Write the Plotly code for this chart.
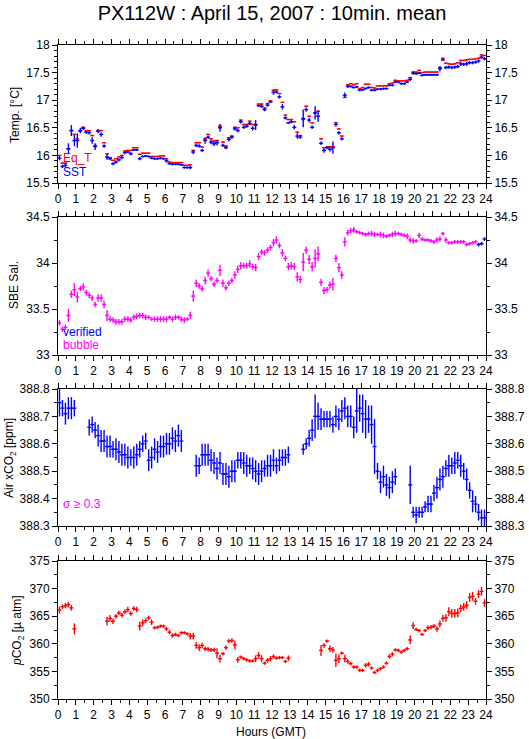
import plotly.graph_objects as go

# ---------------- data (10-minute means, index i -> hour (i+0.5)/6) ----------------
N = 144
hours = [(i + 0.5) / 6 for i in range(N)]

sst = [15.95,15.80,15.82,16.12,16.45,16.27,16.27,16.45,16.49,16.42,
       16.41,16.27,16.16,16.44,16.38,16.17,15.97,15.94,15.85,15.88,
       15.92,15.96,16.05,16.06,16.03,16.10,16.10,15.94,15.98,15.99,
       15.98,15.95,15.94,15.94,15.95,15.94,15.90,15.85,15.84,15.84,
       15.84,15.83,15.78,15.78,15.78,16.06,16.18,16.17,16.09,16.27,
       16.33,16.24,16.21,16.23,16.50,16.18,16.14,16.29,16.33,16.48,
       16.45,16.61,16.51,16.53,16.58,16.49,16.55,16.90,16.89,16.83,
       16.91,16.97,17.14,17.15,17.06,16.88,16.68,16.59,16.61,16.51,
       16.35,16.33,16.67,16.83,16.64,16.51,16.77,16.71,16.22,16.09,
       16.14,16.11,16.14,16.56,16.41,16.30,17.09,17.25,17.25,17.23,
       17.24,17.18,17.19,17.21,17.23,17.18,17.18,17.20,17.20,17.21,
       17.21,17.27,17.27,17.33,17.33,17.30,17.30,17.33,17.38,17.49,
       17.48,17.49,17.45,17.46,17.46,17.46,17.46,17.46,17.57,17.73,
       17.59,17.60,17.59,17.60,17.61,17.66,17.65,17.66,17.68,17.68,
       17.69,17.71,17.78,17.75]

sst_err = [0.04,0.03,0.04,0.10,0.10,0.10,0.13,0.05,0.03,0.03,
           0.03,0.06,0.06,0.04,0.04,0.03,0.05,0.03,0.03,0.03,
           0.03,0.03,0.03,0.02,0.03,0.02,0.02,0.03,0.02,0.02,
           0.02,0.02,0.02,0.02,0.02,0.02,0.03,0.02,0.02,0.02,
           0.02,0.02,0.02,0.02,0.03,0.04,0.03,0.03,0.03,0.06,
           0.03,0.04,0.04,0.05,0.07,0.03,0.03,0.04,0.03,0.03,
           0.03,0.03,0.03,0.03,0.03,0.04,0.09,0.02,0.03,0.03,
           0.03,0.02,0.04,0.03,0.03,0.05,0.03,0.02,0.03,0.04,
           0.05,0.03,0.16,0.04,0.04,0.03,0.12,0.10,0.03,0.04,
           0.03,0.04,0.11,0.04,0.03,0.03,0.05,0.03,0.02,0.02,
           0.02,0.02,0.02,0.02,0.02,0.02,0.02,0.02,0.02,0.02,
           0.02,0.02,0.02,0.02,0.02,0.02,0.02,0.02,0.03,0.03,
           0.02,0.02,0.02,0.02,0.02,0.02,0.02,0.02,0.05,0.02,
           0.03,0.03,0.03,0.03,0.03,0.04,0.03,0.04,0.03,0.03,
           0.03,0.03,0.03,0.03]

eq_t = [16.00,15.86,15.86,16.12,16.45,16.38,16.30,16.44,16.51,16.45,
        16.45,16.36,16.18,16.45,16.45,16.23,16.03,15.96,15.91,15.94,
        15.97,16.00,16.08,16.09,16.09,16.14,16.14,16.02,16.04,16.04,
        16.04,15.98,15.98,15.98,15.99,15.99,15.94,15.88,15.87,15.87,
        15.87,15.87,15.82,15.82,15.83,16.09,16.23,16.23,16.15,16.30,
        16.38,16.30,16.26,16.27,16.53,16.24,16.17,16.32,16.35,16.51,
        16.50,16.64,16.56,16.56,16.62,16.56,16.56,16.93,16.93,16.86,
        16.94,16.99,17.18,17.19,17.12,16.96,16.73,16.65,16.65,16.61,
        16.42,16.36,16.65,16.89,16.71,16.59,16.77,16.80,16.30,16.14,
        16.15,16.16,16.16,16.59,16.48,16.35,17.05,17.28,17.30,17.28,
        17.30,17.21,17.23,17.29,17.29,17.23,17.22,17.26,17.26,17.26,
        17.26,17.30,17.31,17.36,17.35,17.35,17.35,17.36,17.41,17.51,
        17.51,17.54,17.50,17.51,17.51,17.51,17.51,17.51,17.59,17.76,
        17.67,17.66,17.65,17.66,17.68,17.72,17.72,17.73,17.74,17.74,
        17.75,17.76,17.82,17.81]

sal = [33.35,33.28,33.30,33.43,33.66,33.71,33.63,33.72,33.74,33.68,
       33.65,33.62,33.55,33.62,33.62,33.55,33.43,33.39,33.38,33.36,
       33.36,33.36,33.39,33.39,33.38,33.41,33.42,33.43,33.43,33.41,
       33.41,33.39,33.39,33.39,33.39,33.39,33.39,33.41,33.39,33.41,
       33.41,33.39,33.38,33.39,33.43,33.64,33.78,33.75,33.72,33.81,
       33.89,33.83,33.77,33.81,33.92,33.78,33.73,33.78,33.81,33.87,
       33.93,33.97,33.97,33.97,33.99,33.96,33.95,34.07,34.12,34.11,
       34.14,34.17,34.22,34.25,34.19,34.11,34.05,33.96,33.97,33.96,
       33.85,33.82,34.01,34.14,34.04,33.96,34.05,34.10,33.79,33.70,
       33.71,33.76,33.77,34.05,33.95,33.87,34.23,34.33,34.35,34.36,
       34.34,34.33,34.32,34.31,34.32,34.32,34.31,34.31,34.31,34.30,
       34.29,34.30,34.31,34.32,34.32,34.31,34.30,34.29,34.25,34.24,
       34.24,34.30,34.26,34.25,34.25,34.24,34.23,34.25,34.26,34.32,
       34.25,34.22,34.22,34.23,34.23,34.23,34.23,34.20,34.21,34.22,
       34.23,34.20,34.21,34.26]

sal_err = [0.03,0.03,0.03,0.07,0.04,0.07,0.06,0.03,0.04,0.03,
           0.03,0.03,0.03,0.04,0.04,0.04,0.06,0.03,0.03,0.03,
           0.03,0.03,0.03,0.03,0.03,0.03,0.03,0.03,0.03,0.03,
           0.02,0.02,0.03,0.03,0.03,0.03,0.03,0.02,0.03,0.03,
           0.02,0.03,0.03,0.02,0.04,0.06,0.04,0.03,0.03,0.04,
           0.04,0.03,0.03,0.03,0.06,0.04,0.03,0.03,0.03,0.04,
           0.04,0.04,0.03,0.03,0.04,0.03,0.04,0.04,0.03,0.03,
           0.03,0.03,0.04,0.04,0.03,0.04,0.03,0.04,0.04,0.04,
           0.05,0.04,0.10,0.04,0.05,0.05,0.10,0.08,0.04,0.04,
           0.03,0.04,0.07,0.04,0.05,0.04,0.05,0.03,0.03,0.03,
           0.02,0.02,0.02,0.02,0.02,0.03,0.03,0.02,0.03,0.03,
           0.02,0.02,0.03,0.03,0.02,0.02,0.02,0.03,0.03,0.03,
           0.02,0.03,0.02,0.02,0.02,0.02,0.02,0.03,0.03,0.02,
           0.03,0.02,0.02,0.02,0.02,0.02,0.02,0.02,0.02,0.02,
           0.02,0.02,0.02,0.02]

# flag per salinity value: "b" = bubble, "v" = verified
sal_flag = ["b"] * 141 + ["v", "v", "v"]

_ = None
air = ([388.75,388.73,388.71,388.73,388.73,388.73] + [_]*4 +
       [388.66,388.67,388.65,388.63,388.61,388.61,388.59,388.59,388.58,388.58,
        388.57,388.56,388.56,388.55,388.55,388.55,388.56,388.58,388.60,388.61,
        388.54,388.55,388.58,388.57,388.59,388.59,388.60,388.60,388.62,388.61,
        388.63,388.61] + [_]*4 +
       [388.52,388.52,388.56,388.56,388.56,388.54,388.53,388.51,388.53,388.49,
        388.49,388.48,388.50,388.50,388.54,388.54,388.53,388.52,388.52,388.51,
        388.50,388.49] +
       [388.50,388.51,388.52,388.52,388.54,388.52,388.54,388.55,388.55,388.56] + [_]*4 +
       [388.58,388.60,388.62,388.65,388.70,388.70,388.69,388.69,388.69,388.69,
        388.67,388.70,388.69,388.72,388.73,388.70,388.70,388.66,388.72,388.73,
        388.71,388.69,388.69,388.67,388.59,388.50,388.46,388.48,388.45,388.44,
        388.46,388.48] + [_]*4 +
       [388.45] +
       [388.35,388.34,388.35,388.35,388.37,388.38,388.38,388.42,388.44,388.47,
        388.48,388.51,388.52,388.52,388.53,388.54,388.52,388.50,388.47,388.43,
        388.39,388.38,388.35,388.33,388.33])

air_err = ([0.05,0.03,0.04,0.04,0.04,0.03] + [0]*4 +
           [0.03,0.03,0.03,0.04,0.04,0.04,0.04,0.04,0.03,0.04,0.04,0.04,0.04,0.04,0.03,0.04,
            0.04,0.03,0.03,0.03,0.04,0.04,0.04,0.04,0.04,0.04,0.04,0.04,0.04,0.04,0.04,0.04] + [0]*4 +
           [0.04,0.03,0.04,0.04,0.04,0.04,0.04,0.04,0.04,0.04,0.04,0.04,0.04,0.04,0.03,0.03,
            0.04,0.04,0.03,0.04,0.04,0.04] +
           [0.04,0.03,0.04,0.04,0.04,0.03,0.04,0.03,0.03,0.03] + [0]*4 +
           [0.02,0.02,0.03,0.04,0.08,0.05,0.04,0.03,0.03,0.03,0.03,0.04,0.04,0.04,0.04,0.04,
            0.04,0.04,0.08,0.05,0.07,0.07,0.05,0.07,0.10,0.03,0.04,0.04,0.04,0.04,0.04,0.03] + [0]*4 +
           [0.07] +
           [0.02,0.03,0.02,0.02,0.02,0.03,0.03,0.03,0.04,0.04,0.04,0.03,0.04,0.03,0.04,0.03,
            0.04,0.03,0.04,0.03,0.04,0.03,0.03,0.03,0.03])

pco2 = ([366.1,366.7,366.9,367.1,366.5,362.7] + [_]*10 +
        [364.1,364.6,364.1,365.0,365.6,365.2,365.8,366.2,365.5,366.4,366.2] +
        [363.2,363.8,364.2,364.7,363.9,362.9,363.0,363.2,363.2,362.7,
         362.1,361.5,361.7,361.5,362.0,362.0,361.8,361.4,361.4,359.7,
         359.3,359.7,359.1,359.0,358.9,358.9,358.3,357.3,358.2,359.3,
         360.5,360.6,359.8,357.1,357.6,357.3,357.1,356.9,356.9,357.3,357.9] +
        [357.3,356.5,357.0,357.3,357.7,357.4,357.5,357.5,356.8,357.4] + [_]*10 +
        [358.8,359.7,360.5,359.1,358.9,357.0,357.3,358.3,357.3,356.8,
         356.4,355.8,355.8,355.2,355.2,356.1,356.3,355.6,354.8,355.2,
         355.5,355.8,356.5,357.7,358.1,358.9,358.8,358.5,358.8,359.1,
         360.7,363.3,362.6,362.4,361.7,362.4,362.9,363.0,363.2,362.7,
         363.6,364.6,364.7,365.8,365.5,365.5,365.6,366.4,366.7,367.0,
         368.4,368.6,367.7,369.0,369.5,367.4])

pco2_err = ([0.6,0.4,0.5,0.5,0.5,1.0] + [0]*10 +
            [0.8,0.6,0.5,0.4,0.4,0.4,0.4,0.5,0.4,0.4,0.5] +
            [0.8,0.6,0.4,0.4,0.5,0.3,0.3,0.3,0.3,0.4,0.4,0.4,0.3,0.3,0.3,0.3,0.3,0.6,0.6,0.6,
             0.6,0.5,0.4,0.4,0.4,0.4,0.9,0.7,0.3,0.4,0.4,0.4,0.8,0.5,0.3,0.3,0.3,0.3,0.3,0.6,0.6] +
            [0.6,0.3,0.4,0.5,0.4,0.3,0.3,0.3,0.3,0.5] + [0]*10 +
            [1.0,0.4,0.3,0.6,0.5,1.2,0.8,0.3,0.7,0.4,0.3,0.3,0.3,0.3,0.3,0.4,0.4,0.3,0.3,0.3,
             0.3,0.3,0.3,0.4,0.4,0.3,0.3,0.3,0.3,0.3,0.8,0.6,0.3,0.3,0.3,0.3,0.4,0.4,0.4,0.5,
             0.6,0.6,0.7,0.8,0.8,0.8,0.8,0.7,0.7,0.7,0.8,0.8,0.6,0.7,0.8,0.7])

for name, arr in [("sst", sst), ("sst_err", sst_err), ("eq_t", eq_t), ("sal", sal),
                  ("sal_err", sal_err), ("sal_flag", sal_flag), ("air", air),
                  ("air_err", air_err), ("pco2", pco2), ("pco2_err", pco2_err)]:
    assert len(arr) == N, (name, len(arr))

x_ticks = list(range(0, 25))

# ---------------- styling ----------------
BLUE = "#0000ff"
RED = "#ff0000"
MAG = "#ff00ff"
FONT = "Liberation Sans, Arial, Helvetica, sans-serif"
HALF = 0.11   # half-width of 10-min bar, hours
TH = 1.4

W, H = 529, 739
ML, MR, MT, MB = 58, 43, 45, 40
PW, PH = W - ML - MR, H - MT - MB

def py(px):  # pixel y -> paper y
    return 1 - (px - MT) / PH

def pxx(px):
    return (px - ML) / PW

panels = [  # top px, bottom px
    (45, 183), (217, 355), (389, 526), (561, 699)
]
domains = [[py(b), py(t)] for t, b in panels]

def cross(x, y, err, color, xa, ya, name):
    return go.Scatter(
        x=x, y=y, mode="markers", name=name, showlegend=False,
        xaxis=xa, yaxis=ya, marker=dict(size=1, color=color),
        error_x=dict(type="constant", value=HALF, color=color, thickness=TH, width=0),
        error_y=dict(type="data", array=err, color=color, thickness=TH, width=0),
        hoverinfo="x+y",
    )

fig = go.Figure()
fig.add_trace(go.Scatter(
    x=hours, y=eq_t, mode="markers", xaxis="x", yaxis="y", showlegend=False,
    marker=dict(size=1, color=RED),
    error_x=dict(type="constant", value=HALF, color=RED, thickness=TH, width=0),
    error_y=dict(type="constant", value=0.012, color=RED, thickness=TH, width=0)))
fig.add_trace(cross(hours, sst, sst_err, BLUE, "x", "y", "SST"))

sb_x = [h for h, f in zip(hours, sal_flag) if f == "b"]
sb_y = [v for v, f in zip(sal, sal_flag) if f == "b"]
sb_e = [v for v, f in zip(sal_err, sal_flag) if f == "b"]
sv_x = [h for h, f in zip(hours, sal_flag) if f == "v"]
sv_y = [v for v, f in zip(sal, sal_flag) if f == "v"]
sv_e = [v for v, f in zip(sal_err, sal_flag) if f == "v"]
fig.add_trace(cross(sb_x, sb_y, sb_e, MAG, "x2", "y2", "bubble"))
fig.add_trace(cross(sv_x, sv_y, sv_e, BLUE, "x2", "y2", "verified"))
fig.add_trace(cross(hours, air, air_err, BLUE, "x3", "y3", "Air xCO2"))
fig.add_trace(cross(hours, pco2, pco2_err, RED, "x4", "y4", "pCO2"))

ranges = [[15.5, 18], [33, 34.5], [388.3, 388.8], [350, 375]]
dticks = [0.5, 0.5, 0.1, 5]
minors = [0.1, 0.25, 0.05, 2.5]

# dummy traces so right-hand axes render
for k in range(4):
    fig.add_trace(go.Scatter(x=[None], y=[None], xaxis="x" if k == 0 else f"x{k+1}",
                             yaxis=f"y{k+5}", showlegend=False, hoverinfo="skip"))

tickfont = dict(family=FONT, size=12, color="black")
layout = dict(
    width=W, height=H, autosize=False, margin=dict(l=ML, r=MR, t=MT, b=MB, autoexpand=False),
    paper_bgcolor="white", plot_bgcolor="white", showlegend=False,
    font=dict(family=FONT, size=12, color="black"),
    title=dict(text="PX112W : April 15, 2007 : 10min. mean", x=272 / W, xanchor="center",
               xref="container", y=1 - 13 / H, yanchor="middle",
               font=dict(family=FONT, size=20, color="black")),
)
for k in range(4):
    xs = "" if k == 0 else str(k + 1)
    ys = "" if k == 0 else str(k + 1)
    layout[f"xaxis{xs}"] = dict(
        domain=[0, 1], anchor=f"y{ys}", range=[0, 24], tickmode="array",
        tickvals=x_ticks, ticktext=[str(v) for v in x_ticks],
        ticks="outside", ticklen=5, tickwidth=1, tickcolor="black",
        showline=True, linecolor="black", linewidth=1, mirror="ticks",
        showgrid=False, zeroline=False, tickfont=tickfont, automargin=False,
        minor=dict(dtick=0.5, tick0=0, ticks="outside", ticklen=3, tickwidth=1,
                   tickcolor="black", showgrid=False),
    )
    common_y = dict(
        range=ranges[k], dtick=dticks[k], tick0=ranges[k][0], ticks="outside",
        ticklen=5, tickwidth=1, tickcolor="black", showline=True, linecolor="black",
        linewidth=1, showgrid=False, zeroline=False, tickfont=tickfont, automargin=False,
        minor=dict(dtick=minors[k], tick0=ranges[k][0], ticks="outside", ticklen=3,
                   tickwidth=1, tickcolor="black", showgrid=False),
    )
    layout[f"yaxis{ys}"] = dict(domain=domains[k], anchor=f"x{xs}", side="left", **common_y)
    layout[f"yaxis{k+5}"] = dict(overlaying=f"y{ys}", anchor=f"x{xs}", side="right", **common_y)

fig.update_layout(**layout)

ann = []
def add_text(text, xpx, ypx, color="black", angle=0, xanchor="left", size=12):
    ann.append(dict(text=text, x=pxx(xpx), y=py(ypx), xref="paper", yref="paper",
                    xanchor=xanchor, yanchor="middle", showarrow=False, textangle=angle,
                    font=dict(family=FONT, size=size, color=color)))

add_text("Temp. [°C]", 15, 115, angle=-90, xanchor="center")
add_text("SBE Sal.", 14, 285, angle=-90, xanchor="center")
add_text("Air xCO<sub>2</sub> [ppm]", 10, 458, angle=-90, xanchor="center")
add_text("<i>p</i>CO<sub>2</sub> [µ atm]", 18, 631, angle=-90, xanchor="center")
add_text("Eq_T", 61, 158, RED)
add_text("SST", 61, 172, BLUE)
add_text("verified", 61, 332, BLUE)
add_text("bubble", 61, 345, MAG)
add_text("σ ≥ 0.3", 61, 504, MAG)
add_text("Hours (GMT)", 271, 732, xanchor="center")
fig.update_layout(annotations=ann)

fig.write_html(
    "out.html",
    config={"responsive": False, "displayModeBar": False},
    post_script="document.body.style.margin='0';document.body.style.overflow='hidden';",
)
